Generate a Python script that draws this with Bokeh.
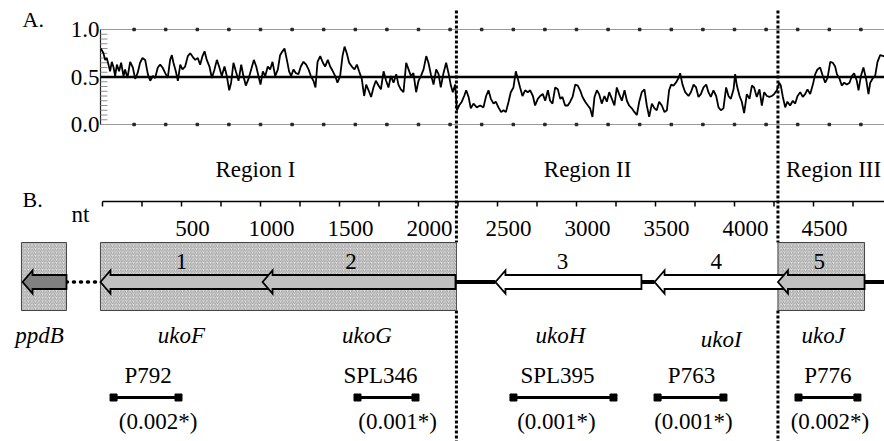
import numpy as np
from bokeh.plotting import figure
from bokeh.layouts import column
from bokeh.models import Range1d, ColumnDataSource
from bokeh.core.properties import value
from bokeh.embed import file_html
from bokeh.resources import INLINE

# ---------------------------------------------------------------------------
# Panel A: sliding-window profile along the locus (position in nt, score)
# ---------------------------------------------------------------------------
window_nt = [
    -10, 6, 17, 27, 38, 48, 59, 70, 80, 91, 105, 118, 133, 143, 158, 175, 192, 207, 222, 238,
    253, 270, 287, 302, 319, 333, 350, 365, 380, 397, 413, 428, 439, 449, 464, 477, 492, 506, 523, 540,
    555, 572, 587, 603, 618, 633, 646, 660, 677, 692, 709, 724, 738, 755, 772, 787, 802, 814, 829, 844,
    861, 878, 892, 907, 924, 941, 958, 973, 987, 1000, 1015, 1030, 1046, 1061, 1076, 1093, 1110, 1124, 1139, 1152,
    1167, 1181, 1194, 1209, 1224, 1240,
    1255, 1272, 1289, 1304, 1319, 1335, 1348, 1361, 1378, 1395, 1409, 1426, 1441, 1458, 1473, 1487, 1504, 1519, 1532, 1546,
    1561, 1578, 1595, 1610, 1624, 1641, 1656, 1669, 1684, 1700, 1715, 1730, 1747, 1762, 1779, 1795, 1810, 1825, 1842, 1859,
    1873, 1888, 1905, 1922, 1937, 1952, 1968, 1985, 2000, 2015, 2032, 2049, 2063, 2078, 2095, 2112, 2127, 2141, 2158, 2175,
    2190, 2205, 2217, 2232, 2243, 2257, 2274, 2289, 2302, 2317, 2331, 2348, 2369, 2390, 2411, 2428, 2443, 2458, 2475,
    2489, 2506, 2523, 2538, 2553, 2570, 2584, 2601, 2616, 2629, 2643, 2658, 2675, 2692, 2707, 2724, 2738, 2755, 2770, 2787,
    2802, 2819, 2833, 2848, 2865, 2882, 2897, 2911, 2928, 2945, 2960, 2975, 2992, 3008, 3023, 3038, 3055, 3072, 3086, 3101,
    3114, 3129, 3143, 3160, 3177, 3192, 3207, 3224, 3240, 3255, 3270, 3287, 3304, 3319, 3333, 3350, 3367, 3382, 3397, 3413,
    3430, 3445, 3460, 3477, 3494, 3508, 3523, 3540, 3557, 3572, 3586, 3599, 3614, 3629, 3646, 3656, 3671, 3688, 3709,
    3724, 3741, 3757, 3772, 3787, 3804, 3821, 3835, 3850, 3867, 3884, 3899, 3914, 3930, 3947, 3962, 3977, 3994, 4004, 4015,
    4032, 4046, 4061, 4078, 4095, 4110, 4124, 4141, 4158, 4173, 4188, 4205, 4221, 4236, 4251, 4268, 4283, 4293, 4306, 4321,
    4335, 4352, 4369, 4384, 4399, 4416, 4432, 4447, 4462, 4479, 4496, 4511, 4525, 4542, 4559, 4574, 4589, 4606, 4622, 4637,
    4648, 4665, 4679, 4694, 4711, 4728, 4743, 4757, 4774, 4785, 4800, 4816, 4833, 4848, 4859, 4876, 4890, 4905, 4922, 4943,
    4960,
]
window_val = [
    0.80, 0.75, 0.68, 0.70, 0.63, 0.56, 0.66, 0.60, 0.51, 0.63, 0.56, 0.65, 0.51, 0.58, 0.49, 0.66, 0.60, 0.48, 0.54, 0.65,
    0.70, 0.68, 0.53, 0.46, 0.51, 0.49, 0.60, 0.63, 0.60, 0.54, 0.49, 0.68, 0.73, 0.65, 0.56, 0.46, 0.63, 0.58, 0.61, 0.72,
    0.75, 0.71, 0.68, 0.70, 0.63, 0.72, 0.77, 0.68, 0.61, 0.49, 0.58, 0.68, 0.61, 0.51, 0.61, 0.51, 0.36, 0.44, 0.65, 0.56,
    0.46, 0.63, 0.51, 0.41, 0.48, 0.58, 0.68, 0.61, 0.51, 0.42, 0.56, 0.51, 0.61, 0.58, 0.66, 0.51, 0.58, 0.73, 0.77, 0.80,
    0.68, 0.56, 0.51, 0.58, 0.54, 0.53,
    0.61, 0.66, 0.63, 0.58, 0.51, 0.46, 0.39, 0.66, 0.72, 0.65, 0.61, 0.68, 0.61, 0.56, 0.51, 0.44, 0.51, 0.72, 0.82, 0.75,
    0.65, 0.61, 0.58, 0.63, 0.56, 0.48, 0.30, 0.42, 0.36, 0.29, 0.39, 0.46, 0.41, 0.37, 0.56, 0.46, 0.39, 0.51, 0.44, 0.53,
    0.42, 0.37, 0.34, 0.65, 0.58, 0.51, 0.54, 0.34, 0.46, 0.51, 0.58, 0.72, 0.65, 0.53, 0.42, 0.58, 0.53, 0.39, 0.54, 0.65,
    0.54, 0.41, 0.34, 0.42, 0.15, 0.20, 0.24, 0.30, 0.36, 0.29, 0.17, 0.22, 0.18, 0.20, 0.18, 0.30, 0.36, 0.27, 0.22,
    0.24, 0.18, 0.13, 0.15, 0.13, 0.24, 0.34, 0.39, 0.56, 0.48, 0.39, 0.30, 0.36, 0.34, 0.36, 0.30, 0.20, 0.27, 0.30, 0.32,
    0.25, 0.36, 0.25, 0.22, 0.39, 0.37, 0.27, 0.29, 0.20, 0.20, 0.24, 0.29, 0.42, 0.41, 0.36, 0.29, 0.24, 0.20, 0.17, 0.08,
    0.29, 0.36, 0.32, 0.22, 0.30, 0.24, 0.34, 0.27, 0.20, 0.39, 0.32, 0.25, 0.36, 0.25, 0.20, 0.17, 0.13, 0.10, 0.24, 0.34,
    0.37, 0.20, 0.08, 0.22, 0.17, 0.15, 0.24, 0.20, 0.13, 0.15, 0.36, 0.42, 0.41, 0.44, 0.49, 0.54, 0.42, 0.34, 0.30,
    0.34, 0.42, 0.39, 0.29, 0.32, 0.39, 0.42, 0.34, 0.29, 0.36, 0.30, 0.18, 0.15, 0.17, 0.39, 0.30, 0.27, 0.37, 0.53, 0.41,
    0.30, 0.24, 0.12, 0.32, 0.27, 0.41, 0.39, 0.29, 0.37, 0.20, 0.34, 0.30, 0.29, 0.30, 0.32, 0.36, 0.44, 0.41, 0.29, 0.18,
    0.24, 0.20, 0.25, 0.22, 0.30, 0.34, 0.29, 0.32, 0.37, 0.32, 0.42, 0.53, 0.58, 0.60, 0.51, 0.44, 0.49, 0.66, 0.65, 0.61,
    0.53, 0.48, 0.41, 0.44, 0.42, 0.44, 0.51, 0.54, 0.46, 0.36, 0.51, 0.60, 0.48, 0.32, 0.44, 0.49, 0.51, 0.66, 0.73, 0.72,
    0.72,
]
profile_ref = 0.5
profile_ticks = [0.0, 0.5, 1.0]
profile_tick_labels = ["0.0", "0.5", "1.0"]
profile_minor = [0.05, 0.10, 0.15, 0.20, 0.25, 0.30, 0.35, 0.40, 0.45,
                 0.55, 0.60, 0.65, 0.70, 0.75, 0.80, 0.85, 0.90, 0.95]
profile_grid_nt = [200, 400, 600, 800, 1000, 1200, 1400, 1600, 1800, 2000, 2200, 2400,
                   2600, 2800, 3000, 3200, 3400, 3600, 3800, 4000, 4200, 4400, 4600, 4800]

# ---------------------------------------------------------------------------
# Panel B: gene map (nt). Genes are transcribed leftwards: start = arrow tip.
# ---------------------------------------------------------------------------
gene_names = ["ppdB", "ukoF", "ukoG", "ukoH", "ukoI", "ukoJ"]
gene_numbers = ["", "1", "2", "3", "4", "5"]
gene_start = [-506, -13, 1013, 2487, 3494, 4275]
gene_end = [-228, 1013, 2234, 3411, 4275, 4823]

region_names = ["Region I", "Region II", "Region III"]
region_bounds = [2240, 4275]

shaded_start = [-513, -13, 4275]
shaded_end = [-228, 2240, 4823]

primer_names = ["P792", "SPL346", "SPL395", "P763", "P776"]
primer_start = [70, 1614, 2601, 3513, 4405]
primer_end = [481, 1981, 3234, 3930, 4778]
primer_p = ["(0.002*)", "(0.001*)", "(0.001*)", "(0.001*)", "(0.002*)"]

nt_ticks = [0, 250, 500, 750, 1000, 1250, 1500, 1750, 2000, 2250, 2500, 2750,
            3000, 3250, 3500, 3750, 4000, 4250, 4500, 4750]
nt_labels = ["500", "1000", "1500", "2000", "2500", "3000", "3500", "4000", "4500"]
nt_label_pos = [500, 1000, 1500, 2000, 2500, 3000, 3500, 4000, 4500]

# ---------------------------------------------------------------------------
# Layout / styling
# ---------------------------------------------------------------------------
SERIF = "'Liberation Serif', 'Times New Roman', 'DejaVu Serif', serif"
W = 884
PX_PER_NT = 0.158          # horizontal scale shared by both panels
ORIGIN_PX = 102            # canvas x of nt 0
X0 = -ORIGIN_PX / PX_PER_NT
X_END = (W - ORIGIN_PX) / PX_PER_NT
AXIS_X = -2 / PX_PER_NT    # left edge of the profile axes (just left of nt 0)

gene_fill = ["#808080", "#c0c0c0", "#c0c0c0", "#ffffff", "#ffffff", "#c0c0c0"]
name_dx = [-5, 0, 8, -8, 5, 2]
name_dy = [0, 0, 0, 0, -4, 0]
num_dx = [0, 0, -8, -6, 0, -2]
primer_dx = [2, -6, -6, 1, 0]
pval_dx = [12, 11, -7, 3, 2]
region_label_x = [968, 3070, 4627]


def add_text(p, xs, ys, texts, size="23px", style="normal", dx=None, align="center"):
    n = len(xs)
    src = ColumnDataSource(dict(x=list(xs), y=list(ys), text=list(texts),
                                dx=list(dx) if dx is not None else [0] * n))
    p.text(x="x", y="y", text="text", x_offset="dx", source=src,
           text_font=value(SERIF), text_font_size=size, text_font_style=style,
           text_align=align, text_baseline="middle", text_color="black")


def make_panel(height, y0, y1):
    p = figure(width=W, height=height, x_range=Range1d(X0, X_END), y_range=Range1d(y0, y1),
               x_axis_location=None, y_axis_location=None, toolbar_location=None,
               output_backend="svg", min_border=0)
    p.frame_align = False
    p.outline_line_color = None
    p.grid.visible = False
    return p


# ---------------- Panel A ----------------
HA = 150
TOP_PX, ZERO_PX = 29, 124                   # canvas y of 1.0 and 0.0
unit = ZERO_PX - TOP_PX
ya0 = -(HA - ZERO_PX) / unit
ya1 = 1 + TOP_PX / unit
pa = make_panel(HA, ya0, ya1)

# frame lines at 0 and 1, reference line at 0.5
pa.segment(x0=[AXIS_X] * 2, y0=[0.0, 1.0], x1=[X_END] * 2, y1=[0.0, 1.0],
           line_color="#9a9a9a", line_width=1.2)
pa.segment(x0=[AXIS_X], y0=[profile_ref], x1=[X_END], y1=[profile_ref],
           line_color="black", line_width=2.5)

# value axis
pa.segment(x0=[AXIS_X], y0=[0.0], x1=[AXIS_X], y1=[1.0], line_color="#222222", line_width=1.2)
tick_len = 7 / PX_PER_NT
pa.segment(x0=[AXIS_X] * len(profile_minor), y0=profile_minor,
           x1=[AXIS_X + tick_len] * len(profile_minor), y1=profile_minor,
           line_color="#909090", line_width=1)
add_text(pa, [AXIS_X] * 3, profile_ticks, profile_tick_labels, align="right", dx=[-1] * 3)

# small marks along the frame lines
pa.scatter(profile_grid_nt + profile_grid_nt,
           [1.0] * len(profile_grid_nt) + [0.0] * len(profile_grid_nt),
           marker="square", size=2.5, color="#222222")

pa.line(window_nt, window_val, line_color="black", line_width=1.8)

pa.segment(x0=region_bounds, y0=[1 + (TOP_PX - 10) / unit] * 2, x1=region_bounds, y1=[ya0] * 2,
           line_color="black", line_width=3, line_dash="3 2")

add_text(pa, [(22 - ORIGIN_PX) / PX_PER_NT], [1 + (TOP_PX - 19) / unit], ["A."],
         size="22px", align="left")

# ---------------- Panel B ----------------
HB = 291
pb = make_panel(HB, 0, HB)

# vertical positions (px from bottom of panel B; text rows are centre lines)
Y_REGION, Y_AXIS, Y_TICKLAB, Y_NT, Y_B = 272.5, 240, 213, 227, 242.5
BOX_TOP, BOX_BOT = 199, 131
Y_NUM, YC, BODY, HEADW = 180.5, 159.5, 7.0, 11.5
Y_NAME, Y_PRIMER, Y_BAR, Y_P = 106, 66, 44, 20
HEAD = 10 / PX_PER_NT

# region boundaries (dotted), interrupted by the shaded boxes
pb.segment(x0=region_bounds, y0=[HB] * 2, x1=region_bounds, y1=[BOX_TOP] * 2,
           line_color="black", line_width=3, line_dash="3 2")
pb.segment(x0=region_bounds, y0=[BOX_BOT] * 2, x1=region_bounds, y1=[0] * 2,
           line_color="black", line_width=3, line_dash="3 2")

add_text(pb, region_label_x, [Y_REGION] * 3, region_names)

# nucleotide scale
pb.segment(x0=[0], y0=[Y_AXIS], x1=[X_END], y1=[Y_AXIS], line_color="black", line_width=1.5)
pb.segment(x0=nt_ticks, y0=[Y_AXIS] * len(nt_ticks), x1=nt_ticks, y1=[Y_AXIS - 5] * len(nt_ticks),
           line_color="black", line_width=1.5)
add_text(pb, nt_label_pos, [Y_TICKLAB] * len(nt_label_pos), nt_labels, dx=[11] * len(nt_label_pos))
add_text(pb, [(80 - ORIGIN_PX) / PX_PER_NT], [Y_NT], ["nt"])
add_text(pb, [(22 - ORIGIN_PX) / PX_PER_NT], [Y_B], ["B."], size="22px", align="left")

# shaded blocks
pb.quad(left=shaded_start, right=shaded_end, bottom=BOX_BOT, top=BOX_TOP,
        fill_color="#e2e2e2", hatch_pattern="right_diagonal_line", hatch_color="#8a8a8a",
        hatch_scale=3.5, hatch_weight=0.8, line_color="#444444", line_width=1)

# intergenic links
pb.segment(x0=[gene_end[0]], y0=[YC], x1=[gene_start[1]], y1=[YC],
           line_color="black", line_width=3.5, line_dash="1 6", line_cap="round")
links_x0, links_x1 = [], []
for i in range(1, len(gene_start)):
    nxt = gene_start[i + 1] if i + 1 < len(gene_start) else X_END + 50
    if nxt > gene_end[i]:
        links_x0.append(gene_end[i])
        links_x1.append(nxt)
pb.segment(x0=links_x0, y0=[YC] * len(links_x0), x1=links_x1, y1=[YC] * len(links_x0),
           line_color="black", line_width=4)

# gene arrows (pointing left); a gene abutting the next one runs under its head
xs, ys = [], []
for i, (s, e) in enumerate(zip(gene_start, gene_end)):
    if i + 1 < len(gene_start) and gene_start[i + 1] == e:
        e = e + HEAD
    b = s + HEAD
    xs.append([s, b, b, e, e, b, b])
    ys.append([YC, YC + HEADW, YC + BODY, YC + BODY, YC - BODY, YC - BODY, YC - HEADW])
pb.patches(xs, ys, fill_color=gene_fill, line_color="black", line_width=1.8, line_join="miter")

mids = [(s + e) / 2 for s, e in zip(gene_start, gene_end)]
add_text(pb, mids[1:], [Y_NUM] * 5, gene_numbers[1:], dx=num_dx[1:])
add_text(pb, mids, [Y_NAME + d for d in name_dy], gene_names, style="italic", dx=name_dx)

# RT-PCR products
pmid = [(s + e) / 2 for s, e in zip(primer_start, primer_end)]
pb.segment(x0=primer_start, y0=[Y_BAR] * 5, x1=primer_end, y1=[Y_BAR] * 5,
           line_color="black", line_width=3)
pb.scatter(primer_start + primer_end, [Y_BAR] * 10, marker="square", size=7, color="black")
add_text(pb, pmid, [Y_PRIMER] * 5, primer_names, dx=primer_dx)
add_text(pb, pmid, [Y_P] * 5, primer_p, dx=pval_dx)

layout = column(pa, pb, spacing=0)
open("out.html", "w").write(file_html(layout, INLINE))
